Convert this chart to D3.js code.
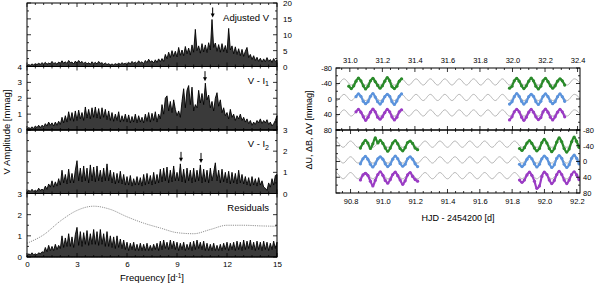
<!DOCTYPE html>
<html>
<head>
<meta charset="utf-8">
<script src="https://d3js.org/d3.v7.min.js"></script>
<style>
  body { margin: 0; background: #fff; }
  svg { display: block; }
  text { font-family: 'Liberation Sans', Arial, sans-serif; fill: #000; }
  .tick text { font-size: 8px; }
  .lc .tick text { font-size: 7.5px; }
</style>
</head>
<body>
<script>
// ---------- left: amplitude spectra, sampled every 0.1 d^-1 from 0 to 15 ----------
const ampAdjV = [
  0.3,0.6,0.4,0.8,0.5,0.9,0.6,1.0,0.7,1.2,
  0.8,1.3,0.7,1.1,0.8,1.6,0.9,1.2,0.7,1.4,
  1.0,1.8,1.0,1.5,0.9,1.9,1.2,1.4,0.8,1.7,
  1.1,1.9,1.2,1.6,0.9,1.4,0.8,1.2,0.7,1.5,
  0.9,1.3,0.8,1.6,1.0,1.2,0.7,1.1,0.6,0.9,
  0.5,0.8,0.5,0.9,0.6,1.0,0.7,1.2,0.8,1.0,
  0.6,1.3,0.8,1.6,1.0,1.4,0.9,1.8,1.1,1.5,
  0.9,1.9,1.2,2.3,1.4,1.8,1.1,2.1,1.3,2.4,
  1.5,2.5,1.6,3.8,2.4,4.5,2.8,5.0,3.2,4.8,
  3.0,6.0,3.5,5.2,3.4,6.3,4.0,5.8,3.6,6.8,
  4.5,11.7,5.0,6.5,4.2,7.2,4.6,6.8,4.4,7.5,
  5.2,14.8,6.0,7.4,4.8,6.9,4.5,7.2,4.7,6.6,
  4.3,12.0,5.2,6.5,4.0,6.2,3.8,5.6,3.4,5.4,
  3.2,4.8,6.0,2.8,3.8,2.2,3.4,1.9,2.9,1.6,
  2.6,1.4,2.4,1.5,2.8,1.6,2.2,1.3,2.5,1.6,
  2.0
];
const ampVI1 = [
  0.05,0.15,0.1,0.2,0.1,0.25,0.15,0.3,0.15,0.3,
  0.2,0.4,0.25,0.5,0.3,0.45,0.25,0.5,0.3,0.55,
  0.35,0.8,0.45,0.9,0.5,1.15,0.6,1.1,0.55,1.2,
  0.6,1.25,0.7,1.1,0.6,1.45,0.75,1.3,0.7,1.4,
  0.8,1.45,0.75,1.35,0.7,1.4,0.8,1.3,0.65,1.2,
  0.6,1.1,0.55,1.0,0.6,1.15,0.5,0.9,0.55,1.0,
  0.5,0.95,0.45,0.85,0.5,1.0,0.45,0.9,0.5,0.8,
  0.45,1.0,0.55,1.1,0.5,1.05,0.6,1.15,0.5,1.0,
  0.7,1.6,1.0,2.0,2.15,1.2,1.8,1.1,1.9,1.3,
  0.9,1.2,0.8,1.8,2.6,1.4,2.5,2.8,1.6,2.7,
  1.2,1.6,1.4,2.5,1.7,2.3,1.6,2.95,1.9,2.2,
  1.4,1.8,1.2,2.0,2.35,1.5,1.9,1.1,1.4,0.9,
  1.1,0.7,1.3,0.8,1.0,0.6,0.9,0.7,1.0,0.6,
  0.8,0.5,0.7,0.4,0.6,0.3,0.5,0.35,0.6,0.45,
  0.7,0.4,0.6,0.45,0.65,0.35,0.5,0.25,0.4,0.6,
  0.9
];
const ampVI2 = [
  0.05,0.15,0.1,0.2,0.1,0.15,0.1,0.25,0.15,0.2,
  0.15,0.35,0.2,0.45,0.3,0.6,0.3,0.55,0.35,0.7,
  0.4,1.1,0.5,0.9,0.45,1.15,0.5,0.95,0.5,1.1,
  1.55,0.6,1.2,0.55,1.3,0.6,1.2,0.5,1.35,0.6,
  1.25,0.55,1.3,0.6,1.1,0.55,1.2,0.6,1.4,0.6,
  1.1,0.5,1.0,0.45,0.95,0.5,1.05,0.45,0.9,0.4,
  0.8,0.4,0.85,0.35,0.7,0.4,0.8,0.4,0.75,0.35,
  0.9,0.4,0.95,0.45,0.85,0.4,1.0,0.45,0.9,0.5,
  1.15,0.55,1.2,0.6,1.25,0.5,1.1,0.55,1.3,0.6,
  1.0,0.6,1.4,0.55,1.15,0.5,1.2,0.6,1.1,0.5,
  1.2,0.55,1.1,0.6,1.35,0.5,1.15,0.55,1.1,0.5,
  1.2,0.6,1.0,1.45,0.6,1.1,0.5,1.15,0.55,1.0,
  0.5,1.05,0.45,1.0,0.5,0.95,0.45,1.1,0.5,0.9,
  0.45,0.8,0.4,0.75,0.35,0.8,0.4,0.7,0.35,0.75,
  0.4,0.6,0.3,0.25,0.15,0.5,0.3,0.7,0.4,0.85,
  0.9
];
const ampResid = [
  0.05,0.15,0.1,0.2,0.1,0.15,0.1,0.2,0.15,0.25,
  0.2,0.45,0.25,0.55,0.3,0.5,0.3,0.6,0.35,0.55,
  0.4,1.0,0.45,0.9,0.5,1.1,0.5,0.95,0.45,1.05,
  1.4,0.55,1.2,0.5,1.15,0.6,1.25,0.55,1.1,0.6,
  1.3,0.6,1.2,0.55,1.3,0.6,1.1,0.5,1.2,0.5,
  1.0,0.45,0.95,0.4,1.0,0.45,0.85,0.4,0.8,0.35,
  0.7,0.3,0.65,0.35,0.7,0.3,0.6,0.3,0.65,0.3,
  0.6,0.3,0.65,0.3,0.55,0.3,0.6,0.35,0.65,0.3,
  0.75,0.35,0.8,0.4,0.7,0.35,0.8,0.4,0.75,0.35,
  0.7,0.3,0.65,0.35,0.7,0.3,0.6,0.35,0.7,0.3,
  0.75,0.35,0.8,0.4,0.7,0.35,0.75,0.3,0.65,0.3,
  0.6,0.3,0.65,0.3,0.55,0.3,0.6,0.3,0.65,0.35,
  0.7,0.3,0.65,0.35,0.7,0.3,0.75,0.35,0.7,0.3,
  0.8,0.35,0.75,0.4,0.8,0.35,0.7,0.3,0.75,0.35,
  0.7,0.3,0.75,0.35,0.7,0.3,0.65,0.35,0.75,0.4,
  0.7
];
const freqs = d3.range(ampAdjV.length).map(i => i / 10);

// dotted level in the residuals panel
const levelFreq = [0, 1, 2, 3, 4, 5, 6, 7, 8, 9, 10, 11, 12, 13, 14, 15];
const levelAmp = [0.65, 1.05, 1.7, 2.2, 2.4, 2.25, 1.9, 1.6, 1.37, 1.15, 1.1, 1.3, 1.5, 1.5, 1.47, 1.45];

// marked frequencies (arrows)
const arrowsAdjV = [11.14];
const arrowsVI1 = [10.68];
const arrowsVI2 = [9.24, 10.44];

// ---------- right: light curves ----------
// model curve: times of its maxima/minima (even index = maximum brightness)
const modelTopT = [30.876, 30.920, 30.964, 31.009, 31.053, 31.097, 31.141, 31.186, 31.230, 31.274,
  31.318, 31.363, 31.407, 31.451, 31.495, 31.540, 31.584, 31.628, 31.672, 31.717, 31.761, 31.805,
  31.849, 31.894, 31.938, 31.982, 32.026, 32.071, 32.115, 32.159, 32.203, 32.248, 32.292, 32.336,
  32.380, 32.425];
const modelBotT = [90.616, 90.662, 90.708, 90.754, 90.800, 90.846, 90.892, 90.938, 90.985, 91.031,
  91.077, 91.123, 91.169, 91.215, 91.261, 91.307, 91.353, 91.400, 91.446, 91.492, 91.538, 91.584,
  91.630, 91.676, 91.722, 91.769, 91.815, 91.861, 91.907, 91.953, 91.999, 92.045, 92.091, 92.138,
  92.184, 92.230];
const modelCenters = [-44, -4, 36];
const modelAmp = 8;

const topTimesA = [30.994, 31.009, 31.024, 31.038, 31.053, 31.068, 31.083, 31.097, 31.112, 31.127, 31.142,
  31.156, 31.171, 31.186, 31.200, 31.215, 31.230, 31.245, 31.259, 31.274, 31.289, 31.304, 31.318];
const topUA = [-33, -27, -34, -46, -54, -47, -34, -26, -33, -47, -53, -45, -35, -28, -34, -46, -55, -47, -32, -27, -33, -46, -52];
const topBA = [null, null, null, -6, -13, -7, 6, 12, 7, -7, -14, -5, 7, 13, 6, -6, -12, -7, 7, 14, 5, -7, -13];
const topVA = [null, null, null, 33, 27, 34, 46, 55, 47, 34, 26, 33, 47, 52, 46, 35, 27, 33, 46, 54, 47, 33, 28];

const topTimesB = [31.982, 31.997, 32.011, 32.026, 32.041, 32.056, 32.070, 32.085, 32.100, 32.115, 32.129, 32.144,
  32.159, 32.174, 32.188, 32.203, 32.218, 32.233, 32.247, 32.262, 32.277, 32.292, 32.306, 32.321];
const topUB = [-28, -33, -47, -53, -46, -34, -27, -34, -46, -54, -47, -33, -26, -33, -47, -53, -45, -34, -28, -34, -46, -52, -47, -36];
const topBB = [13, 7, -6, -14, -7, 6, 13, 7, -6, -12, -7, 7, 14, 6, -7, -13, -6, 6, 12, 7, -6, -13, -6, 6];
const topVB = [54, 46, 33, 27, 33, 47, 55, 47, 34, 27, 34, 46, 53, 48, 33, 26, 34, 47, 54, 46, 34, 27, 33, 46];

const botTimesC = [90.861, 90.877, 90.892, 90.907, 90.923, 90.938, 90.953, 90.969, 90.984, 91.000, 91.015, 91.030,
  91.046, 91.061, 91.077, 91.092, 91.107, 91.123, 91.138, 91.153, 91.169, 91.184, 91.200, 91.215];
const botUC = [-34, -46, -54, -47, -33, -45, -60, -47, -54, -46, -34, -26, -34, -47, -53, -45, -33, -27, -35, -48, -52, -46, -34, -30];
const botBC = [6, -7, -13, -6, 7, 14, 6, -7, -12, -6, 6, 13, 7, -6, -14, -7, 5, 12, 7, -7, -12, -6, 6, 13];
const botVC = [47, 34, 30, 35, 50, 62, 48, 33, 26, 35, 48, 55, 46, 33, 27, 36, 47, 58, 49, 34, 28, 38, 46, 50];

const botTimesD = [91.846, 91.861, 91.876, 91.892, 91.907, 91.922, 91.938, 91.953, 91.969, 91.984, 91.999, 92.015,
  92.030, 92.045, 92.061, 92.076, 92.091, 92.107, 92.122, 92.138, 92.153, 92.168, 92.184, 92.199, 92.214];
const botUD = [-33, -28, -35, -47, -53, -46, -34, -27, -33, -48, -56, -47, -33, -25, -33, -49, -60, -50, -33, -24, -32, -50, -62, -51, -36];
const botBD = [7, 13, 7, -6, -13, -7, 6, 14, 7, -7, -14, -8, 6, 15, 8, -8, -15, -8, 7, 15, 8, -8, -16, -8, 6];
const botVD = [47, 53, 47, 34, 27, 35, 50, 68, 62, 38, 27, 33, 47, 56, 48, 33, 25, 33, 47, 56, 47, 33, 26, 34, 46];

const bandColors = ['#2a8a2a', '#5b93dc', '#9a3cc4'];

// ------------------------------------------------------------
const svg = d3.select('body').append('svg').attr('width', 600).attr('height', 285);

function frameTicks(g, x, y, w, h, xMinor, xMajor, yMinor, yMajor) {
  const tk = g.append('g').attr('stroke', '#000').attr('stroke-width', 0.8);
  const [x0, x1] = x.domain();
  const [ya, yb] = y.domain();
  const y0 = Math.min(ya, yb), y1 = Math.max(ya, yb);
  const xs = d3.range(Math.ceil(x0 / xMinor - 1e-6) * xMinor, x1 + 1e-6, xMinor);
  xs.forEach(v => {
    const major = Math.abs(v / xMajor - Math.round(v / xMajor)) < 1e-4;
    const L = major ? 4 : 2;
    tk.append('line').attr('x1', x(v)).attr('x2', x(v)).attr('y1', h).attr('y2', h - L);
    tk.append('line').attr('x1', x(v)).attr('x2', x(v)).attr('y1', 0).attr('y2', L);
  });
  const ys = d3.range(Math.ceil(y0 / yMinor - 1e-6) * yMinor, y1 + 1e-6, yMinor);
  ys.forEach(v => {
    const major = Math.abs(v / yMajor - Math.round(v / yMajor)) < 1e-4;
    const L = major ? 4 : 2;
    tk.append('line').attr('x1', 0).attr('x2', L).attr('y1', y(v)).attr('y2', y(v));
    tk.append('line').attr('x1', w).attr('x2', w - L).attr('y1', y(v)).attr('y2', y(v));
  });
  g.append('rect').attr('width', w).attr('height', h)
    .attr('fill', 'none').attr('stroke', '#000').attr('stroke-width', 1);
}

// label-only axis: tick lines and domain are drawn by frameTicks
function labelAxis(g, axis, pad) {
  g.call(axis.tickSize(0).tickPadding(pad));
  g.select('.domain').remove();
  g.selectAll('.tick line').remove();
}

// ---------- left block ----------
const L = { left: 27, right: 277, top: 3, ph: 63.5 };
const lw = L.right - L.left;
const fx = d3.scaleLinear().domain([0, 15]).range([0, lw]);

const panels = [
  { vals: ampAdjV, max: 20, label: 'Adjusted V', sub: null, arrows: arrowsAdjV, ticks: [5, 2.5],
    left: [], right: [0, 5, 10, 15, 20] },
  { vals: ampVI1, max: 4, label: 'V - I', sub: '1', arrows: arrowsVI1, ticks: [1, 0.5],
    left: [0, 1, 2, 3, 4], right: [] },
  { vals: ampVI2, max: 3, label: 'V - I', sub: '2', arrows: arrowsVI2, ticks: [1, 0.5],
    left: [], right: [0, 1, 2, 3] },
  { vals: ampResid, max: 3, label: 'Residuals', sub: null, arrows: [], ticks: [1, 0.5],
    left: [0, 1, 2, 3], right: [] }
];

panels.forEach((p, k) => {
  const g = svg.append('g').attr('transform', `translate(${L.left},${L.top + k * L.ph})`);
  const y = d3.scaleLinear().domain([0, p.max]).range([L.ph, 0]);

  if (k === 3) {
    g.append('path')
      .datum(levelFreq.map((f, i) => [f, levelAmp[i]]))
      .attr('d', d3.line().x(d => fx(d[0])).y(d => y(d[1])).curve(d3.curveMonotoneX))
      .attr('fill', 'none').attr('stroke', '#777').attr('stroke-width', 0.8)
      .attr('stroke-dasharray', '1.2,1');
  }

  const area = d3.area().x((d, i) => fx(freqs[i])).y0(y(0)).y1(d => y(d));
  g.append('path').datum(p.vals).attr('d', area)
    .attr('fill', '#3a3a3a').attr('stroke', '#000').attr('stroke-width', 0.9)
    .attr('stroke-linejoin', 'miter');

  p.arrows.forEach(f => {
    const peak = p.vals[Math.round(f * 10)];
    const tipY = Math.max(y(peak) - 2, 6);
    const ax = fx(f);
    g.append('line').attr('x1', ax).attr('x2', ax).attr('y1', tipY - 10).attr('y2', tipY - 3)
      .attr('stroke', '#000').attr('stroke-width', 1);
    g.append('path').attr('d', `M${ax - 2},${tipY - 4}L${ax + 2},${tipY - 4}L${ax},${tipY}Z`).attr('fill', '#000');
  });

  frameTicks(g, fx, y, lw, L.ph, 0.5, 3, p.ticks[1], p.ticks[0]);

  const t = g.append('text').attr('x', lw - 8).attr('y', k === 0 ? 18 : 17)
    .attr('text-anchor', 'end').style('font-size', '9.5px').text(p.label);
  if (p.sub) t.append('tspan').attr('dy', 2.5).style('font-size', '7px').text(p.sub);

  if (p.left.length) {
    labelAxis(g.append('g'), d3.axisLeft(y).tickValues(p.left).tickFormat(d => String(d)), 5);
  }
  if (p.right.length) {
    labelAxis(g.append('g').attr('transform', `translate(${lw},0)`),
      d3.axisRight(y).tickValues(p.right).tickFormat(d => String(d)), 6);
  }
  if (k === 3) {
    labelAxis(g.append('g').attr('transform', `translate(0,${L.ph})`),
      d3.axisBottom(fx).tickValues([0, 3, 6, 9, 12, 15]).tickFormat(d => String(d)), 4);
  }
});

const fl = svg.append('text').attr('x', L.left + lw / 2).attr('y', 281).attr('text-anchor', 'middle')
  .style('font-size', '9.5px').text('Frequency [d');
fl.append('tspan').attr('dy', -3.5).style('font-size', '6.5px').text('-1');
fl.append('tspan').attr('dy', 3.5).text(']');

svg.append('text').attr('transform', 'translate(10,132) rotate(-90)').attr('text-anchor', 'middle')
  .style('font-size', '9.5px').text('V Amplitude [mmag]');

// ---------- right block ----------
const R = { left: 336, right: 580, top: 68, mid: 130, bottom: 193 };
const rw = R.right - R.left;
const tTop = d3.scaleLinear().domain([30.915, 32.415]).range([0, rw]);
const tBot = d3.scaleLinear().domain([90.71, 92.22]).range([0, rw]);

const lcPanels = [
  { x: tTop, y0: R.top, h: R.mid - R.top, model: modelTopT,
    segs: [[topTimesA, topUA, topBA, topVA], [topTimesB, topUB, topBB, topVB]] },
  { x: tBot, y0: R.mid, h: R.bottom - R.mid, model: modelBotT,
    segs: [[botTimesC, botUC, botBC, botVC], [botTimesD, botUD, botBD, botVD]] }
];

lcPanels.forEach((p, k) => {
  const g = svg.append('g').attr('class', 'lc').attr('transform', `translate(${R.left},${p.y0})`);
  const y = d3.scaleLinear().domain([-80, 80]).range([0, p.h]);
  const clipId = 'clip' + k;
  g.append('clipPath').attr('id', clipId).append('rect').attr('width', rw).attr('height', p.h);
  const body = g.append('g').attr('clip-path', `url(#${clipId})`);

  modelCenters.forEach(c => {
    body.append('path')
      .datum(p.model.map((t, i) => [t, i % 2 === 0 ? c - modelAmp : c + modelAmp]))
      .attr('d', d3.line().x(d => p.x(d[0])).y(d => y(d[1])).curve(d3.curveMonotoneX))
      .attr('fill', 'none').attr('stroke', '#8a8a8a').attr('stroke-width', 0.6);
  });

  p.segs.forEach(seg => {
    const times = seg[0];
    [seg[1], seg[2], seg[3]].forEach((vals, b) => {
      const pts = times.map((t, i) => [t, vals[i]]).filter(d => d[1] !== null);
      body.append('path').datum(pts)
        .attr('d', d3.line().x(d => p.x(d[0])).y(d => y(d[1])).curve(d3.curveMonotoneX))
        .attr('fill', 'none').attr('stroke', bandColors[b]).attr('stroke-width', 2.2)
        .attr('stroke-linecap', 'round');
      body.selectAll(null).data(pts).enter().append('circle')
        .attr('cx', d => p.x(d[0])).attr('cy', d => y(d[1])).attr('r', 1.6)
        .attr('fill', bandColors[b]);
    });
  });

  frameTicks(g, p.x, y, rw, p.h, 0.05, 0.2, 20, 40);

  const yt = [-80, -40, 0, 40, 80];
  if (k === 0) {
    labelAxis(g.append('g'), d3.axisLeft(y).tickValues(yt).tickFormat(d => String(d)), 4);
    labelAxis(g.append('g'), d3.axisTop(p.x).tickValues(d3.range(31.0, 32.41, 0.2)).tickFormat(d3.format('.1f')), 5);
  } else {
    labelAxis(g.append('g').attr('transform', `translate(${rw},0)`),
      d3.axisRight(y).tickValues(yt).tickFormat(d => String(d)), 3);
    labelAxis(g.append('g').attr('transform', `translate(0,${p.h})`),
      d3.axisBottom(p.x).tickValues(d3.range(90.8, 92.21, 0.2)).tickFormat(d3.format('.1f')), 6);
  }
});

svg.append('text').attr('x', R.left + rw / 2).attr('y', 221).attr('text-anchor', 'middle')
  .style('font-size', '9px').text('HJD - 2454200 [d]');
svg.append('text').attr('transform', 'translate(312,130) rotate(-90)').attr('text-anchor', 'middle')
  .style('font-size', '9px').text('ΔU, ΔB, ΔV [mmag]');
</script>
</body>
</html>
